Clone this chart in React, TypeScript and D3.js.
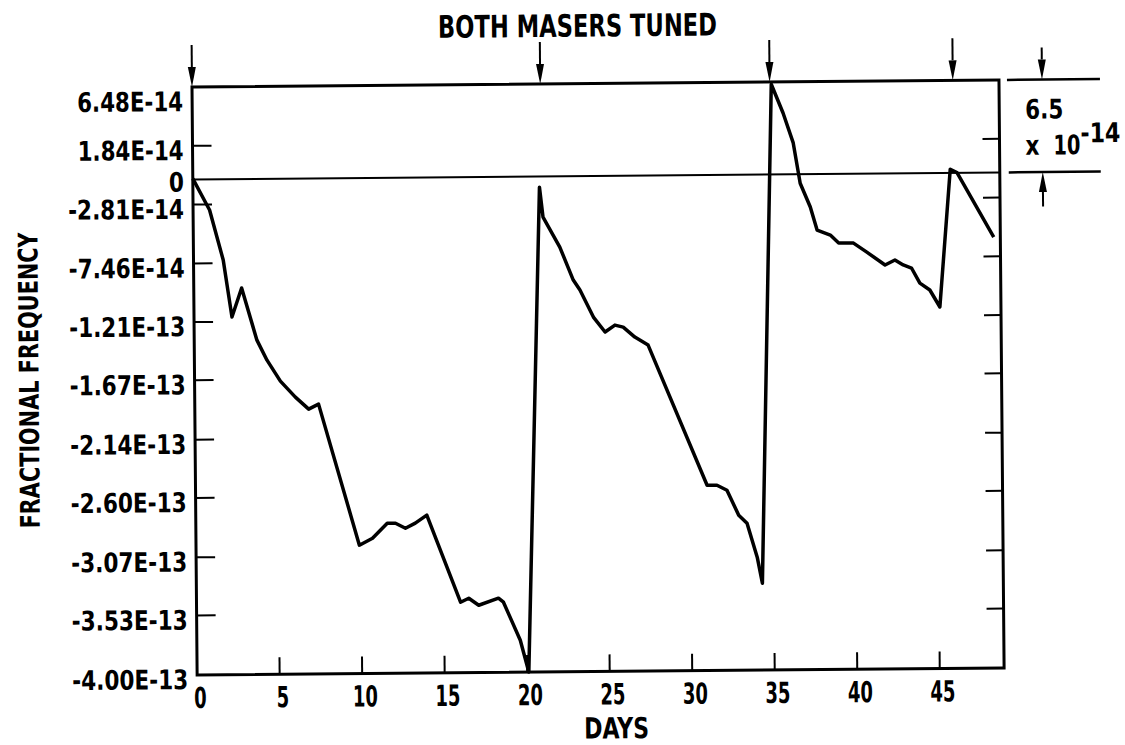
import React from "react";
import * as d3 from "d3";

// fractional frequency offset between the two masers (units of 1E-14)
const days = [
  0, 1.0, 1.8, 2.3, 2.9, 3.8, 4.4, 5.2, 6.1, 6.9, 7.5, 9.9, 10.7, 11.6, 12.1, 12.7, 13.3, 14.0,
  16.0, 16.5, 17.1, 18.3, 18.6, 19.6, 20.1,
  21.0, 21.2, 22.2, 23.0, 23.4, 24.2, 24.9, 25.5, 26.0, 26.7, 27.5, 31.0, 31.6, 32.2,
  32.9, 33.4, 34.0, 34.3,
  35.1, 35.8, 36.4, 36.8, 37.4, 37.8, 38.6, 39.1, 40.0, 40.8, 41.9, 42.5, 43.0, 43.5,
  44.0, 44.6, 45.2,
  45.9, 46.3, 48.5,
];
const freqE14 = [
  0.05, -3.25, -7.21, -11.72, -9.44, -13.57, -15.16, -16.83, -18.1, -19.06, -18.67, -29.85, -29.31, -28.13, -28.14, -28.54, -28.15, -27.52,
  -34.43, -34.12, -34.68, -34.14, -34.46, -37.48, -40.0,
  -1.2, -4.04, -6.42, -9.04, -9.83, -11.98, -13.17, -12.63, -12.79, -13.59, -14.23, -25.35, -25.36, -25.76,
  -27.74, -28.38, -31.07, -33.14,
  6.3, 4.02, 1.71, -1.02, -3.43, -5.25, -5.66, -6.29, -6.31, -7.03, -8.06, -7.67, -8.07, -8.32,
  -9.52, -10.07, -11.42,
  0.2, 0.02, -5.93,
];

const yTickLabels = [
  "6.48E-14", "1.84E-14", "0", "-2.81E-14", "-7.46E-14", "-1.21E-13",
  "-1.67E-13", "-2.14E-13", "-2.60E-13", "-3.07E-13", "-3.53E-13", "-4.00E-13",
];
const xTicks = [0, 5, 10, 15, 20, 25, 30, 35, 40, 45];
const tuneDays = [0, 21.1, 35.0, 46.1];

const W = 1125;
const H = 745;
const left = 192, right = 999, top = 87, bottom = 675;

const FONT = "'DejaVu Sans Condensed', 'DejaVu Sans', sans-serif";

// rough width of a label in the scanned lettering
function textW(s: string, digit: number) {
  return [...s].reduce((a, c) => a + (c === "-" ? 10 : c === "." ? 6 : c === " " ? 8 : digit), 0);
}

function Arrow({ x, y1, y2 }: { x: number; y1: number; y2: number }) {
  const dir = y2 > y1 ? 1 : -1;
  const head = 20;
  return (
    <g>
      <line x1={x} x2={x} y1={y1} y2={y2 - dir * head} stroke="#000" strokeWidth={2} />
      <path
        d={`M${x - 4},${y2 - dir * head} L${x + 4},${y2 - dir * head} L${x},${y2} Z`}
        fill="#000"
      />
    </g>
  );
}

export default function App() {
  const x = d3.scaleLinear().domain([0, 48.9]).range([left, right]);
  // the published axis is not uniform around zero, so map the labelled levels piecewise
  const y = d3
    .scaleLinear()
    .domain([-4.0e-13, -2.81e-14, 0, 1.84e-14, 6.48e-14])
    .range([bottom, 204.6, 179.5, 145.8, top]);

  const pts: [number, number][] = days.map((d, i) => [d, freqE14[i] * 1e-14]);
  const line = d3
    .line<[number, number]>()
    .x((d) => x(d[0]))
    .y((d) => y(d[1]));

  const yTicks = yTickLabels.map((l) => Number(l));

  return (
    <svg
      width={W}
      height={H}
      style={{ position: "absolute", left: 0, top: 0, background: "#fff" }}
      fontFamily={FONT}
      fontWeight="bold"
    >
      <rect width={W} height={H} fill="#fff" />
      <g transform={`rotate(-0.5 ${left} ${top})`}>
        {/* title */}
        <text x={578} y={40} textAnchor="middle" fontSize={31} textLength={279} lengthAdjust="spacingAndGlyphs">
          BOTH MASERS TUNED
        </text>

        {/* tuning arrows */}
        {tuneDays.map((d) => (
          <Arrow key={d} x={x(d)} y1={45} y2={top} />
        ))}

        {/* frame */}
        <path
          d={`M${left},${top} L${right},${top} L${right},${bottom} L${left},${bottom} Z`}
          fill="none"
          stroke="#000"
          strokeWidth={3}
        />
        <line x1={left} x2={right} y1={y(0)} y2={y(0)} stroke="#000" strokeWidth={2} />

        {/* y ticks + labels */}
        {yTicks.map((v, i) => (
          <g key={yTickLabels[i]}>
            {i > 0 && i < yTicks.length - 1 && v !== 0 && (
              <>
                <line x1={left} x2={left + 19} y1={y(v)} y2={y(v)} stroke="#000" strokeWidth={2} />
                <line x1={right - 17} x2={right} y1={y(v)} y2={y(v)} stroke="#000" strokeWidth={2} />
              </>
            )}
            <text
              x={183}
              y={y(v) + (i === 0 ? 24 : v === 0 ? 12 : 14)}
              textAnchor="end"
              fontSize={27}
              textLength={textW(yTickLabels[i], 15)}
              lengthAdjust="spacingAndGlyphs"
            >
              {yTickLabels[i]}
            </text>
          </g>
        ))}

        {/* x ticks + labels */}
        {xTicks.map((d) => (
          <g key={d}>
            {d > 0 && (
              <line x1={x(d)} x2={x(d)} y1={bottom} y2={bottom - 17} stroke="#000" strokeWidth={2} />
            )}
            <text
              x={x(d) + 3}
              y={708}
              textAnchor="middle"
              fontSize={29}
              textLength={textW(String(d), 12.5)}
              lengthAdjust="spacingAndGlyphs"
            >
              {d}
            </text>
          </g>
        ))}

        {/* axis titles */}
        <text x={611} y={742} textAnchor="middle" fontSize={29} textLength={65} lengthAdjust="spacingAndGlyphs">
          DAYS
        </text>
        <text
          transform="translate(36,379) rotate(-90)"
          textAnchor="middle"
          fontSize={27}
          textLength={296}
          lengthAdjust="spacingAndGlyphs"
        >
          FRACTIONAL FREQUENCY
        </text>

        {/* data */}
        <path d={line(pts) ?? ""} fill="none" stroke="#000" strokeWidth={3.5} strokeLinejoin="round" />

        {/* 6.5 x 10^-14 scale bracket */}
        <line x1={1007} x2={1100} y1={y(6.48e-14)} y2={y(6.48e-14)} stroke="#000" strokeWidth={2.5} />
        <line x1={1008} x2={1100} y1={y(0)} y2={y(0)} stroke="#000" strokeWidth={2.5} />
        <Arrow x={1042} y1={55} y2={y(6.48e-14)} />
        <Arrow x={1042} y1={214} y2={y(0)} />
        <text x={1025} y={126} fontSize={27} textLength={38} lengthAdjust="spacingAndGlyphs">6.5</text>
        <text x={1025} y={162} fontSize={27} textLength={14} lengthAdjust="spacingAndGlyphs">x</text>
        <text x={1053} y={162} fontSize={27} textLength={27} lengthAdjust="spacingAndGlyphs">10</text>
        <text x={1080} y={150} fontSize={27} textLength={40} lengthAdjust="spacingAndGlyphs">-14</text>
      </g>
    </svg>
  );
}
